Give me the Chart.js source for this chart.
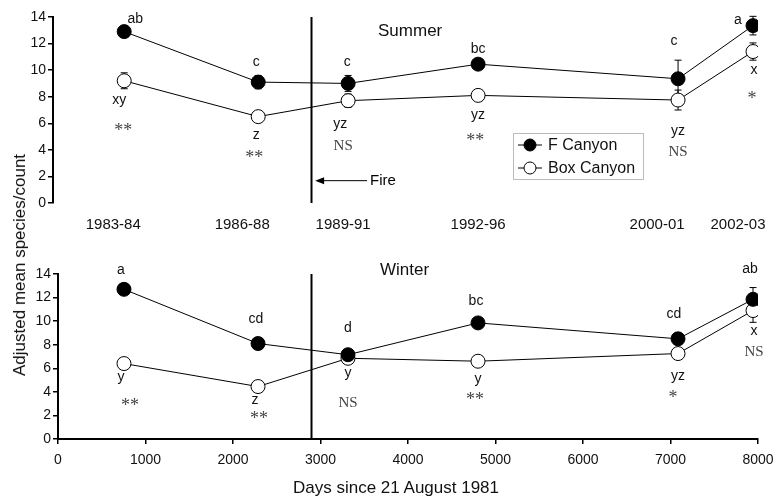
<!DOCTYPE html>
<html>
<head>
<meta charset="utf-8">
<script src="https://cdn.jsdelivr.net/npm/chart.js@4.4.1/dist/chart.umd.min.js"></script>
<style>
  body { margin: 0; background: #fff; }
  #wrap { position: relative; width: 775px; height: 499px; font-family: "Liberation Sans", Arial, sans-serif; }
  #top { position: absolute; left: 0; top: 0; }
  #bottom { position: absolute; left: 0; top: 240px; }
  #ytitle { position: absolute; left: 20px; top: 265px; transform: translate(-50%, -50%) rotate(-90deg);
            font-size: 17px; white-space: nowrap; color: #111; }
  #xtitle { position: absolute; left: 396px; top: 488px; transform: translate(-50%, -50%);
            font-size: 17px; white-space: nowrap; color: #111; }
</style>
</head>
<body>
<div id="wrap">
  <canvas id="top" width="775" height="240"></canvas>
  <canvas id="bottom" width="775" height="259"></canvas>
  <div id="ytitle">Adjusted mean species/count</div>
  <div id="xtitle">Days since 21 August 1981</div>
</div>
<script>
// sampling days (days since 21 Aug 1981)
const dayValues = [754, 2286, 3314, 4800, 7086, 7943];
const fireDay = 2890;

// summer
const summerF = [12.9, 9.1, 9.0, 10.45, 9.35, 13.35];
const summerBox = [9.2, 6.5, 7.7, 8.1, 7.75, 11.4];
const summerFErr = [0.3, 0.5, 0.6, 0.3, 1.4, 0.7];
const summerBoxErr = [0.6, 0.3, 0.5, 0.3, 0.75, 0.65];

// winter
const winterF = [12.7, 8.1, 7.15, 9.85, 8.5, 11.85];
const winterBox = [6.4, 4.45, 6.85, 6.6, 7.25, 10.9];
const winterFErr = [0.3, 0.4, 0.4, 0.3, 0.5, 1.0];
const winterBoxErr = [0.3, 0.3, 0.3, 0.3, 0.4, 1.0];

// period labels on the summer panel
const periodLabels = ["1983-84", "1986-88", "1989-91", "1992-96", "2000-01", "2002-03"];
const periodLabelDays = [629, 2103, 3257, 4800, 6846, 7771];

const yTicks = [0, 2, 4, 6, 8, 10, 12, 14];
const dayTicks = [0, 1000, 2000, 3000, 4000, 5000, 6000, 7000, 8000];

// letter groups and significance marks
const summerFLetters = ["ab", "c", "c", "bc", "c", "a"];
const summerBoxLetters = ["xy", "z", "yz", "yz", "yz", "x"];
const summerSig = ["**", "**", "NS", "**", "NS", "*"];
const winterFLetters = ["a", "cd", "d", "bc", "cd", "ab"];
const winterBoxLetters = ["y", "z", "y", "y", "yz", "x"];
const winterSig = ["**", "**", "NS", "**", "*", "NS"];

// where those notes sit, in [day, value]
const summerFLetterPos = [[880, 13.87], [2263, 10.6], [3303, 10.6], [4800, 11.6], [7040, 12.2], [7771, 13.8]];
const summerBoxLetterPos = [[697, 7.77], [2263, 5.14], [3223, 5.97], [4800, 6.64], [7086, 5.44], [7954, 10.03]];
const summerSigPos = [[743, 5.74], [2240, 3.78], [3257, 4.31], [4766, 5.06], [7086, 3.86], [7931, 8.22]];
const winterFLetterPos = [[720, 14.33], [2263, 10.18], [3314, 9.41], [4777, 11.7], [7040, 10.6], [7909, 14.42]];
const winterBoxLetterPos = [[720, 5.26], [2251, 3.31], [3314, 5.6], [4800, 5.09], [7086, 5.34], [7954, 9.16]];
const winterSigPos = [[823, 3.22], [2297, 2.12], [3314, 3.05], [4766, 3.73], [7029, 3.9], [7954, 7.38]];

const SANS = '"Liberation Sans", Arial, sans-serif';
const SERIF = '"Liberation Serif", "Times New Roman", serif';

function toPoints(vals) {
  return vals.map((v, i) => ({ x: dayValues[i], y: v }));
}

function makeDatasets(fVals, boxVals) {
  return [
    {
      label: "F Canyon",
      data: toPoints(fVals),
      borderColor: "#000",
      borderWidth: 1,
      backgroundColor: "#000",
      pointRadius: 7,
      pointBorderWidth: 1,
      pointBackgroundColor: "#000",
      pointBorderColor: "#000",
    },
    {
      label: "Box Canyon",
      data: toPoints(boxVals),
      borderColor: "#000",
      borderWidth: 1,
      backgroundColor: "#fff",
      pointRadius: 7,
      pointBorderWidth: 1,
      pointBackgroundColor: "#fff",
      pointBorderColor: "#000",
    },
  ];
}

// error bars, fire line, notes, legend
const panelDecor = {
  id: "panelDecor",
  beforeDatasetsDraw(chart, args, opts) {
    const { ctx, scales } = chart;
    const xs = scales.x, ys = scales.y;
    ctx.save();
    // fire line
    ctx.strokeStyle = "#000";
    ctx.lineWidth = 2;
    const fx = Math.round(xs.getPixelForValue(fireDay)) + 0.5;
    ctx.beginPath();
    ctx.moveTo(fx, chart.chartArea.top);
    ctx.lineTo(fx, chart.chartArea.bottom);
    ctx.stroke();
    // error bars
    ctx.lineWidth = 1;
    opts.errors.forEach((errs, di) => {
      chart.data.datasets[di].data.forEach((p, i) => {
        const x = xs.getPixelForValue(p.x);
        const y1 = ys.getPixelForValue(p.y + errs[i]);
        const y2 = ys.getPixelForValue(p.y - errs[i]);
        ctx.beginPath();
        ctx.moveTo(x, y1); ctx.lineTo(x, y2);
        ctx.moveTo(x - 3.5, y1); ctx.lineTo(x + 3.5, y1);
        ctx.moveTo(x - 3.5, y2); ctx.lineTo(x + 3.5, y2);
        ctx.stroke();
      });
    });
    ctx.restore();
  },
  afterDatasetsDraw(chart, args, opts) {
    const { ctx, scales } = chart;
    const xs = scales.x, ys = scales.y;
    ctx.save();
    ctx.textAlign = "center";
    ctx.textBaseline = "middle";
    opts.notes.forEach((n) => {
      ctx.fillStyle = n.color;
      n.texts.forEach((t, i) => {
        const x = xs.getPixelForValue(n.pos[i][0]);
        let y = ys.getPixelForValue(n.pos[i][1]);
        ctx.font = n.font;
        if (t.indexOf("*") >= 0) {
          ctx.font = n.starFont;
          y += 5; // asterisks ride high in the em box
        }
        ctx.fillText(t, x, y);
      });
    });
    // panel title
    ctx.font = "17px " + SANS;
    ctx.fillStyle = "#111";
    ctx.fillText(opts.title.text, xs.getPixelForValue(opts.title.pos[0]), ys.getPixelForValue(opts.title.pos[1]));

    if (opts.fireArrow) {
      const y = ys.getPixelForValue(1.68);
      const x1 = xs.getPixelForValue(2937), x2 = xs.getPixelForValue(3531);
      ctx.strokeStyle = "#000";
      ctx.fillStyle = "#000";
      ctx.lineWidth = 1;
      ctx.beginPath(); ctx.moveTo(x1 + 6, y); ctx.lineTo(x2, y); ctx.stroke();
      ctx.beginPath(); ctx.moveTo(x1, y); ctx.lineTo(x1 + 9, y - 3.5); ctx.lineTo(x1 + 9, y + 3.5); ctx.closePath(); ctx.fill();
      ctx.font = "15px " + SANS;
      ctx.textAlign = "left";
      ctx.fillText("Fire", x2 + 3, y);
    }

    if (opts.legend) {
      ctx.strokeStyle = "#bbb";
      ctx.lineWidth = 1;
      ctx.strokeRect(513.5, 133.5, 130, 46);
      const rows = [["F Canyon", "#000", 145], ["Box Canyon", "#fff", 168]];
      ctx.textAlign = "left";
      ctx.font = "16px " + SANS;
      rows.forEach(([label, fill, y]) => {
        ctx.strokeStyle = "#000";
        ctx.beginPath(); ctx.moveTo(518, y); ctx.lineTo(542, y); ctx.stroke();
        ctx.beginPath(); ctx.arc(530, y, 6, 0, Math.PI * 2);
        ctx.fillStyle = fill; ctx.fill(); ctx.stroke();
        ctx.fillStyle = "#111";
        ctx.fillText(label, 548, y + 1);
      });
    }
    ctx.restore();
  },
};

function yScale(width) {
  return {
    min: 0,
    max: 14,
    afterBuildTicks: (s) => { s.ticks = yTicks.map((v) => ({ value: v })); },
    afterFit: (s) => { s.width = width; },
    grid: { drawOnChartArea: false, drawTicks: true, tickLength: 5, color: "#000", lineWidth: 1.5 },
    border: { color: "#000", width: 2 },
    ticks: { color: "#111", font: { family: SANS, size: 14 }, padding: 2 },
  };
}

Chart.defaults.animation = false;

new Chart(document.getElementById("top"), {
  type: "line",
  data: { datasets: makeDatasets(summerF, summerBox) },
  options: {
    responsive: false,
    layout: { padding: { top: 17, right: 17, bottom: 0, left: 0 } },
    scales: {
      x: {
        type: "linear",
        min: -60,
        max: 8000,
        afterBuildTicks: (s) => { s.ticks = periodLabelDays.map((v) => ({ value: v })); },
        afterFit: (s) => { s.height = 37; s.paddingLeft = 0; s.paddingRight = 0; },
        grid: { display: false },
        border: { display: false },
        ticks: {
          autoSkip: false,
          maxRotation: 0,
          padding: 5,
          color: "#111",
          font: { family: SANS, size: 15 },
          callback: (v, i) => periodLabels[i],
        },
      },
      y: yScale(53),
    },
    plugins: {
      legend: { display: false },
      tooltip: { enabled: false },
      panelDecor: {
        errors: [summerFErr, summerBoxErr],
        notes: [
          { texts: summerFLetters, pos: summerFLetterPos, font: "14px " + SANS, color: "#111" },
          { texts: summerBoxLetters, pos: summerBoxLetterPos, font: "14px " + SANS, color: "#111" },
          { texts: summerSig, pos: summerSigPos, font: "15px " + SERIF, starFont: "18px " + SERIF, color: "#444" },
        ],
        title: { text: "Summer", pos: [4023, 12.9] },
        fireArrow: true,
        legend: true,
      },
    },
  },
  plugins: [panelDecor],
});

new Chart(document.getElementById("bottom"), {
  type: "line",
  data: { datasets: makeDatasets(winterF, winterBox) },
  options: {
    responsive: false,
    layout: { padding: { top: 34, right: 17, bottom: 0, left: 0 } },
    scales: {
      x: {
        type: "linear",
        min: 0,
        max: 8000,
        afterBuildTicks: (s) => { s.ticks = dayTicks.map((v) => ({ value: v })); },
        afterFit: (s) => { s.height = 60; s.paddingLeft = 0; s.paddingRight = 0; },
        grid: { drawOnChartArea: false, drawTicks: true, tickLength: 5, color: "#000", lineWidth: 1.5 },
        border: { color: "#000", width: 2 },
        ticks: {
          autoSkip: false,
          maxRotation: 0,
          padding: 8,
          color: "#111",
          font: { family: SANS, size: 14 },
          callback: (v) => String(v),
        },
      },
      y: yScale(58),
    },
    plugins: {
      legend: { display: false },
      tooltip: { enabled: false },
      panelDecor: {
        errors: [winterFErr, winterBoxErr],
        notes: [
          { texts: winterFLetters, pos: winterFLetterPos, font: "14px " + SANS, color: "#111" },
          { texts: winterBoxLetters, pos: winterBoxLetterPos, font: "14px " + SANS, color: "#111" },
          { texts: winterSig, pos: winterSigPos, font: "15px " + SERIF, starFont: "18px " + SERIF, color: "#444" },
        ],
        title: { text: "Winter", pos: [3960, 14.33] },
        fireArrow: false,
        legend: false,
      },
    },
  },
  plugins: [panelDecor],
});
</script>
</body>
</html>
